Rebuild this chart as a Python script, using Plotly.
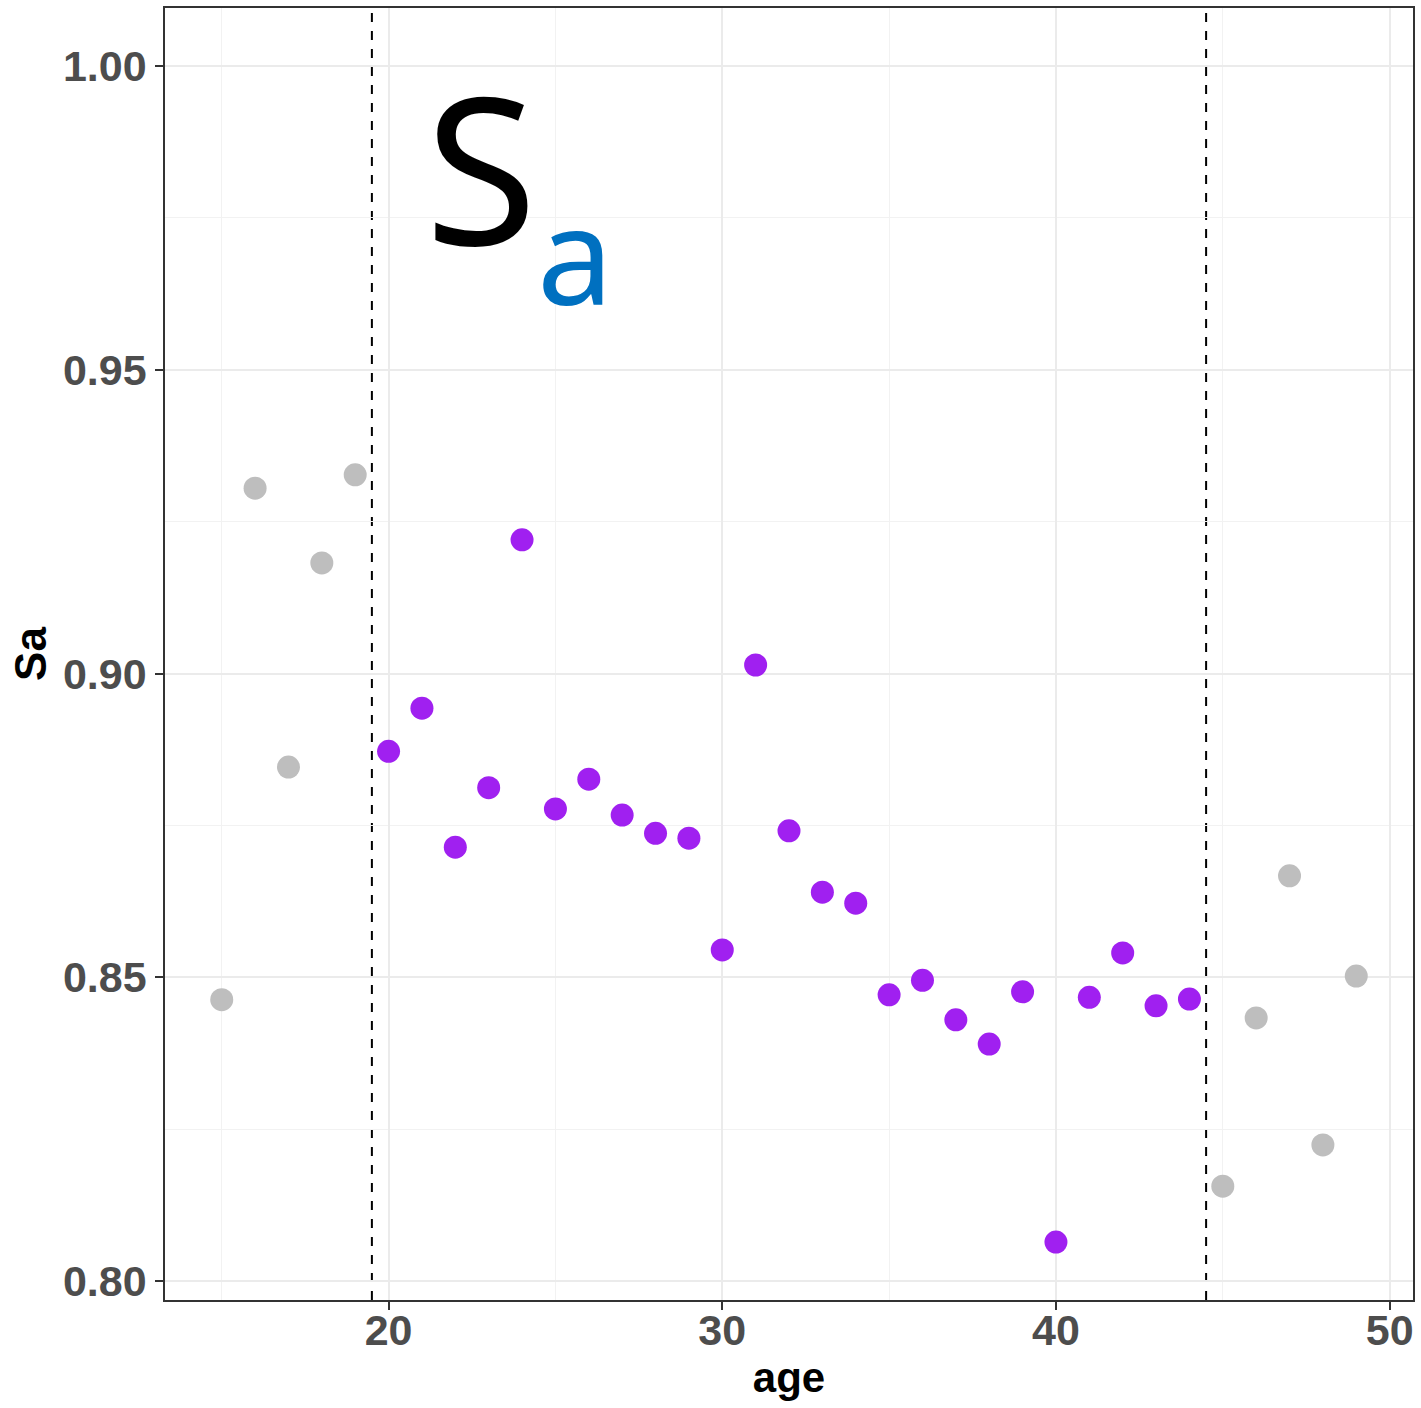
import plotly.graph_objects as go

ages_gray = [15, 16, 17, 18, 19, 45, 46, 47, 48, 49]
sa_gray = [0.8463, 0.9305, 0.8846, 0.9182, 0.9327, 0.8156, 0.8433, 0.8667, 0.8224, 0.8502]
ages_purple = list(range(20, 45))
sa_purple = [0.8872, 0.8943, 0.8714, 0.8812, 0.9220, 0.8777, 0.8826, 0.8767, 0.8737, 0.8729,
             0.8545, 0.9014, 0.8741, 0.8640, 0.8622, 0.8471, 0.8495, 0.8430, 0.8390, 0.8476,
             0.8064, 0.8467, 0.8540, 0.8453, 0.8464]
cutoffs = [19.5, 44.5]
x_ticks = [20, 30, 40, 50]
y_ticks = [0.80, 0.85, 0.90, 0.95, 1.00]
y_tick_labels = ["0.80", "0.85", "0.90", "0.95", "1.00"]

fig = go.Figure()
fig.add_trace(go.Scatter(x=ages_gray, y=sa_gray, mode="markers",
                         marker=dict(color="#BEBEBE", size=23), showlegend=False))
fig.add_trace(go.Scatter(x=ages_purple, y=sa_purple, mode="markers",
                         marker=dict(color="#A020F0", size=23), showlegend=False))

for c in cutoffs:
    fig.add_vline(x=c, line=dict(color="black", width=2, dash="dash"), layer="below")

tickfont = dict(family="Liberation Sans, Arial", size=43, color="#4D4D4D", weight="bold")
axis_common = dict(showline=True, linecolor="#333333", linewidth=1.5, mirror=True,
                   showgrid=True, gridcolor="#EBEBEB", gridwidth=2,
                   ticks="outside", ticklen=8, tickcolor="#333333", tickwidth=2,
                   tickfont=tickfont, zeroline=False, automargin=False)

fig.update_xaxes(range=[13.3, 50.7], tickvals=x_ticks, ticktext=[str(v) for v in x_ticks],
                 ticklabelstandoff=-16,
                 title=dict(text="age", font=dict(family="Liberation Sans, Arial", size=42, color="black", weight="bold"), standoff=9),
                 minor=dict(tickvals=[15, 25, 35, 45], ticks="", showgrid=True, gridcolor="#F2F2F2", gridwidth=1),
                 **axis_common)
fig.update_yaxes(range=[0.79687, 1.00955], tickvals=y_ticks, ticktext=y_tick_labels,
                 title=dict(text="Sa", font=dict(family="Liberation Sans, Arial", size=44, color="black", weight="bold"), standoff=3),
                 minor=dict(tickvals=[0.825, 0.875, 0.925, 0.975], ticks="", showgrid=True, gridcolor="#F2F2F2", gridwidth=1),
                 **axis_common)

fig.add_annotation(x=22.78, y=0.9836, xref="x", yref="y", text="S", showarrow=False,
                   font=dict(family="Noto Sans", size=204, color="black"), xanchor="center", yanchor="middle")
fig.add_annotation(x=25.6, y=0.9693, xref="x", yref="y", text="a", showarrow=False,
                   font=dict(family="Noto Sans", size=136, color="#0070C0"), xanchor="center", yanchor="middle")

fig.update_layout(width=1421, height=1408, plot_bgcolor="white", paper_bgcolor="white",
                  margin=dict(l=165, r=8, t=8, b=108), showlegend=False)

fig.write_html("out.html", config={"displayModeBar": False},
               post_script="document.body.style.margin='0';document.body.style.overflow='hidden';")
